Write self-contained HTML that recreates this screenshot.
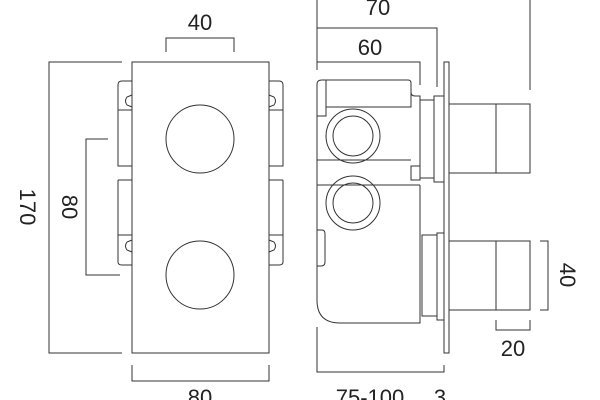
<!DOCTYPE html>
<html><head><style>
html,body{margin:0;padding:0;background:#fff;}
svg{display:block}
text{font-family:"Liberation Sans",sans-serif;font-size:22px;fill:#222;}
</style></head><body>
<svg width="600" height="400" viewBox="0 0 600 400" xmlns="http://www.w3.org/2000/svg">
<g fill="none" stroke="#333" stroke-width="1">
<!-- LEFT VIEW -->
<path d="M166 52V38H234V52"/>
<rect x="132" y="62" width="137" height="291"/>
<path d="M122 62H49V353H122"/>
<path d="M108 139H86V275H120"/>
<circle cx="200" cy="139" r="34"/>
<circle cx="200" cy="275" r="34"/>
<path d="M132 81H122Q118 81 118 85V166H132M118 110H132"/>
<path d="M132 95L127 97Q124 101 127 105L132 107"/>
<path d="M118 180H132M118 180V262Q118 265 122 265H132M118 235H132"/>
<path d="M132 240L127 242Q124 246 127 250L132 252"/>
<path d="M269 81H279Q283 81 283 85V166H269M283 110H269"/>
<path d="M269 95L274 97Q277 101 274 105L269 107"/>
<path d="M283 180H269M283 180V262Q283 265 279 265H269M283 235H269"/>
<path d="M269 240L274 242Q277 246 274 250L269 252"/>
<path d="M132 365V381H269V365"/>
<!-- RIGHT VIEW -->
<path d="M317 0V70M317 28H437V87M317 62H420V85M530 0V90"/>
<rect x="444" y="62" width="5" height="291"/>
<path d="M317 116V300Q317 323 340 323H420V185"/>
<path d="M322 80H326V116H317V84Q317 80 322 80Z"/>
<path d="M326 80H408Q411 80 411 83V92Q411 96 415 96H420V180H411V166H420"/>
<path d="M326 107H411V92"/>
<path d="M317 160H411M317 185H420"/>
<circle cx="353" cy="136" r="27"/><circle cx="353" cy="136" r="20"/>
<circle cx="353" cy="203" r="27"/><circle cx="353" cy="203" r="20"/>
<rect x="420" y="100" width="14" height="78"/>
<rect x="434" y="96" width="10" height="86"/>
<rect x="449" y="104" width="81" height="69"/>
<path d="M496 104V173"/>
<rect x="422" y="235" width="15" height="81"/>
<rect x="437" y="233" width="7" height="87"/>
<rect x="449" y="241" width="81" height="69"/>
<path d="M496 241V310"/>
<path d="M540 241H548V310H540"/>
<path d="M496 320V330H530V320"/>
<path d="M317 327V372H444V365"/>
<path d="M317 230H322Q325 230 325 234V262Q325 266 321 266H317"/>
</g>
<text x="200" y="30" text-anchor="middle">40</text>
<text x="200" y="405" text-anchor="middle">80</text>
<text transform="translate(20 207) rotate(90)" text-anchor="middle">170</text>
<text transform="translate(62 207) rotate(90)" text-anchor="middle">80</text>
<text x="378" y="15" text-anchor="middle">70</text>
<text x="370" y="55" text-anchor="middle">60</text>
<text transform="translate(560 275) rotate(90)" text-anchor="middle">40</text>
<text x="513" y="356" text-anchor="middle">20</text>
<text x="370" y="405" text-anchor="middle">75-100</text>
<text x="440" y="405" text-anchor="middle">3</text>
</svg>
</body></html>
